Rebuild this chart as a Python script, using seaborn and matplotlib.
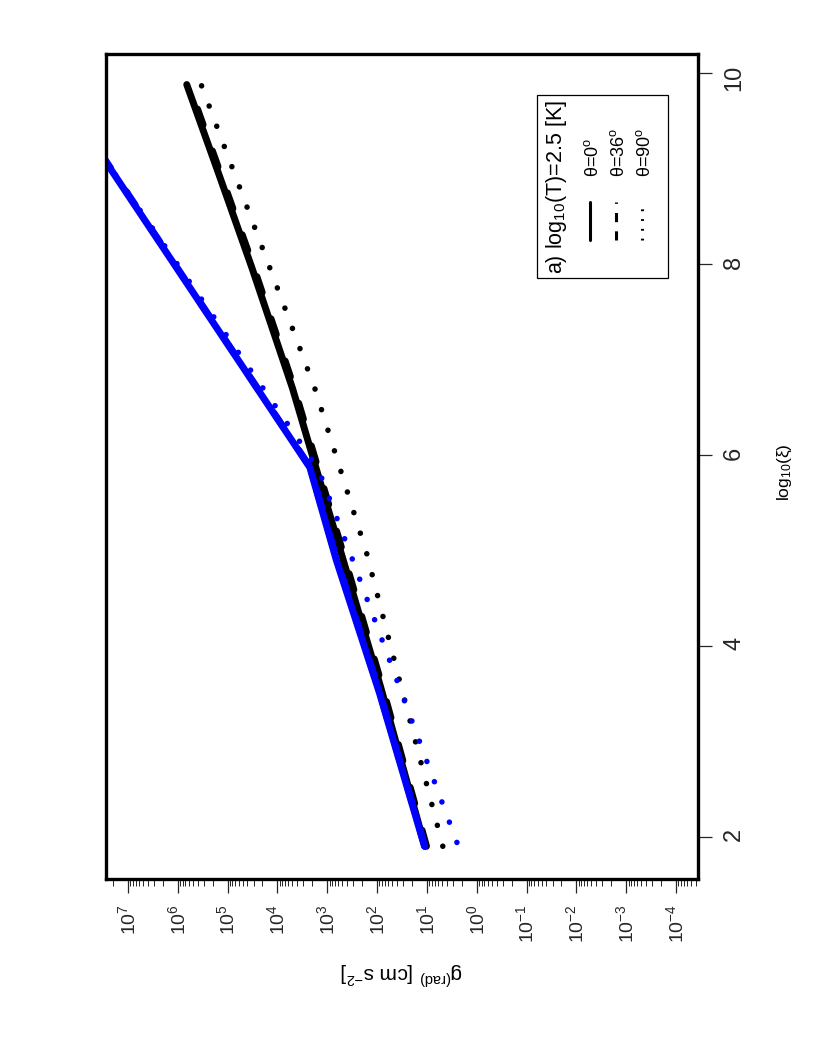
# plot.py
# ─────────────────────────────────────────────────────────────────────────────
# Radiative acceleration vs. ionisation parameter, drawn in the rotated
# (landscape-on-portrait) layout of the original figure.
# ─────────────────────────────────────────────────────────────────────────────

import matplotlib
matplotlib.use("Agg")
import matplotlib.pyplot as plt
import seaborn as sns
from matplotlib.lines import Line2D
from matplotlib.patches import Rectangle
from matplotlib.ticker import LogLocator, NullFormatter

# ─── Data ────────────────────────────────────────────────────────────────────
# log10(xi) nodes and g_rad [cm s^-2] values, one pair of lists per curve
XI_BLACK_0   = [1.90, 3.57, 4.97, 6.70, 7.97, 8.92, 9.88]
G_BLACK_0    = [11.0, 85.0, 525.0, 5.0e3, 3.3e4, 1.45e5, 6.6e5]

XI_BLACK_36  = [1.90, 3.57, 4.97, 6.70, 7.97, 8.92, 9.88]
G_BLACK_36   = [10.2, 78.0, 480.0, 4.6e3, 3.0e4, 1.33e5, 6.0e5]

XI_BLACK_90  = [1.90, 3.65, 4.97, 6.69, 7.54, 9.88]
G_BLACK_90   = [4.8, 36.0, 162.0, 1.76e3, 7.1e3, 3.4e5]

XI_BLUE_0    = [1.90, 3.50, 4.90, 5.87, 9.90]
G_BLUE_0     = [11.2, 89.0, 660.0, 2.24e3, 3.2e8]

XI_BLUE_36   = [1.90, 3.50, 4.90, 5.87, 9.90]
G_BLUE_36    = [11.0, 87.0, 640.0, 2.2e3, 3.1e8]

XI_BLUE_90   = [1.94, 3.44, 4.92, 5.77, 5.97, 6.72, 8.95, 9.90]
G_BLUE_90    = [2.5, 29.0, 320.0, 1.32e3, 2.14e3, 2.07e4, 1.86e7, 3.4e8]

G_DECADES    = list(range(-4, 8))
XI_TICKS     = [2, 4, 6, 8, 10]
LEGEND_TITLE = "a) log$_\\mathregular{10}$(T)=2.5 [K]"
LEGEND_LABELS = ["θ=0$^\\mathregular{o}$", "θ=36$^\\mathregular{o}$", "θ=90$^\\mathregular{o}$"]

# ─── Style ───────────────────────────────────────────────────────────────────
sns.set_style("white")
plt.rcParams["font.family"] = ["Liberation Sans", "DejaVu Sans"]
plt.rcParams["mathtext.fontset"] = "custom"
plt.rcParams["mathtext.rm"] = "Liberation Sans"
plt.rcParams["mathtext.it"] = "Liberation Sans:italic"
plt.rcParams["text.color"] = "black"

W, H = 830, 1038
fig = plt.figure(figsize=(W / 100, H / 100), dpi=100)


def fx(px):
    return px / W


def fy(py):
    return 1 - py / H


ax = fig.add_axes([fx(106), fy(879), (698 - 106) / W, (879 - 54) / H])
ax.set_xscale("log")

LW = 5.0
LW_DOT = 4.0
DOTS = (0, (0.01, 15.5 / LW_DOT))
DASH = (0, (2.4, 4.0))

curves = [
    (G_BLACK_0,  XI_BLACK_0,  "black", "-",  LW),
    (G_BLACK_36, XI_BLACK_36, "black", DASH, LW),
    (G_BLACK_90, XI_BLACK_90, "black", DOTS, LW_DOT),
    (G_BLUE_0,   XI_BLUE_0,   "blue",  "-",  LW),
    (G_BLUE_36,  XI_BLUE_36,  "blue",  DASH, LW),
    (G_BLUE_90,  XI_BLUE_90,  "blue",  DOTS, LW_DOT),
]
for g, xi, col, ls, lw in curves:
    sns.lineplot(x=g, y=xi, sort=False, estimator=None, color=col,
                 linestyle=ls, linewidth=lw, solid_capstyle="round",
                 dash_capstyle="round", solid_joinstyle="round", ax=ax)

# ── axes: g along the bottom (high values on the left), xi on the right ────
ax.set_xlim(10 ** 7.44, 10 ** -4.44)
ax.set_ylim(1.557, 10.2)

ax.xaxis.set_major_locator(LogLocator(base=10, numticks=20))
ax.set_xticks([10.0 ** k for k in G_DECADES])
ax.set_xticklabels([r"$\mathregular{10^{%d}}$" % k for k in G_DECADES])
ax.xaxis.set_minor_locator(LogLocator(base=10, subs=range(2, 10), numticks=40))
ax.xaxis.set_minor_formatter(NullFormatter())
ax.tick_params(axis="x", which="major", bottom=True, top=False, direction="out",
               length=10, width=0.9, labelsize=14, labelrotation=90, pad=8)
ax.tick_params(axis="x", which="minor", bottom=True, top=False, direction="out",
               length=5, width=0.7)

ax.yaxis.tick_right()
ax.set_yticks(XI_TICKS)
ax.set_yticklabels([str(t) for t in XI_TICKS])
ax.tick_params(axis="y", which="major", right=True, left=False, direction="out",
               length=10, width=0.9, labelsize=17, labelrotation=90, pad=8)

for sp in ax.spines.values():
    sp.set_visible(True)
    sp.set_color("black")
    sp.set_linewidth(2.4)

ax.set_xlabel("")
ax.set_ylabel("")

fig.text(fx(785), fy(472), "log$_\\mathregular{10}$(ξ)", rotation=90,
         ha="center", va="center", fontsize=12.5)
fig.text(fx(402), fy(973), "g$^\\mathregular{(rad)}$ [cm s$^\\mathregular{-2}$]",
         rotation=180, ha="center", va="center", fontsize=15)

# ── legend, built by hand because its text is rotated ──────────────────────
fig.add_artist(Rectangle((fx(537), fy(278)), (668 - 537) / W, (278 - 95) / H,
                         transform=fig.transFigure, facecolor="white",
                         edgecolor="black", linewidth=0.9, zorder=5))
fig.text(fx(556), fy(187), LEGEND_TITLE, rotation=90, ha="center", va="center",
         fontsize=15.5, zorder=6)
leg_styles = ["-", (0, (3.0, 3.0)), (0, (0.6, 2.6))]
for i, (lab, ls) in enumerate(zip(LEGEND_LABELS, leg_styles)):
    x_line = 590 + 26 * i
    fig.add_artist(Line2D([fx(x_line), fx(x_line)], [fy(240), fy(202)],
                          transform=fig.transFigure, color="black",
                          linestyle=ls, linewidth=2.2, zorder=6))
    fig.text(fx(x_line + 3), fy(177), lab, rotation=90, ha="center",
             va="bottom", fontsize=13, zorder=6)

fig.savefig("out.png", dpi=100)
plt.close(fig)
